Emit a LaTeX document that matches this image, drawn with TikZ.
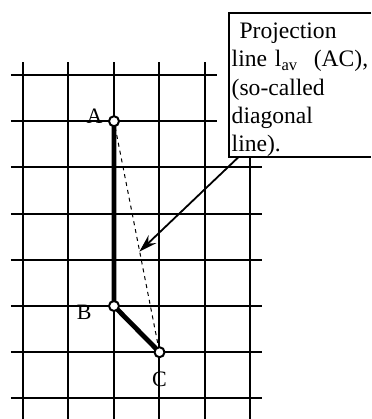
\documentclass[tikz,border=0pt]{standalone}
\usepackage{fontspec}
\setmainfont{Liberation Serif}
\usetikzlibrary{arrows.meta}
\tikzset{
  gridln/.style={line width=1pt, black},
  stn/.style={draw, circle, line width=1pt, minimum size=5pt, inner sep=0pt, fill=white},
  stnlbl/.style={font=\fontsize{11}{12}\selectfont, inner sep=1pt},
  route/.style={line width=2.4pt, line join=round},
  diag/.style={dash pattern=on 2pt off 2pt, line width=0.5pt},
  callout/.style={-{Stealth[length=9pt,width=5.5pt]}, line width=0.9pt},
  notebox/.style={draw, line width=0.9pt},
  notetext/.style={anchor=north west, align=left, text width=72pt, inner xsep=1pt, inner ysep=4.5pt,
                   font=\fontsize{11.8}{14.2}\selectfont}
}

\begin{document}
\begin{tikzpicture}[x=0.5pt, y=-0.5pt]
\useasboundingbox (0,0) rectangle (371,419);
% grid
\foreach \i in {0,...,4} \draw[gridln] (22.7+45.5*\i,62) -- (22.7+45.5*\i,419);
\draw[gridln] (250.2,157) -- (250.2,419);
\foreach \j in {0,1} \draw[gridln] (11,75+46.2*\j) -- (217,75+46.2*\j);
\foreach \j in {2,...,7} \draw[gridln] (11,75+46.2*\j) -- (262,75+46.2*\j);
% note (open on the right, runs off the page)
\draw[notebox] (371,13.3) -- (229.3,13.3) -- (229.3,156.7) -- (371,156.7);
\node[notetext] (note) at (229.3,13.3) {\ Projection\\line l\textsubscript{av}\ \ (AC),\\(so-called\\diagonal\\line).};
% points
\coordinate (tail) at (238.3,157.3);
\coordinate (tip) at (139.3,251.7);
\draw[route] (114,121.2) -- (114,306) -- (159.5,352.2);
\node[stn, label={[stnlbl, label distance=1.5pt, yshift=2.5pt]left:A}] (A) at (114,121.2) {};
\node[stn, label={[stnlbl, label distance=7pt, yshift=-3pt]left:B}] (B) at (114,306) {};
\node[stn, label={[stnlbl, label distance=5.5pt]below:C}] (C) at (159.5,352.2) {};
\draw[diag] (A) -- (C);
\draw[callout] (tail) -- (tip);
\end{tikzpicture}
\end{document}
